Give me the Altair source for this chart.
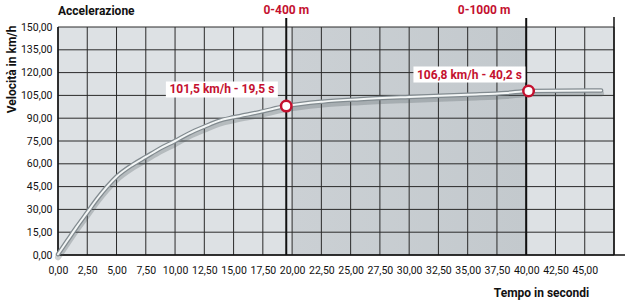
import altair as alt
import pandas as pd

# ---- data ----
time_s = [0, 0.8, 1.6, 2.5, 3.4, 4.2, 5.0, 6.4, 7.5, 8.7, 10.0, 11.2, 12.5, 13.8,
          15.0, 17.2, 19.5, 22.6, 25.8, 30.0, 35.0, 38.3, 40.2, 46.4]
speed_kmh = [0.5, 9.5, 18.5, 28, 37.5, 45, 51.5, 59.5, 64.5, 70, 75, 80, 84.4, 88.4,
             90.6, 94, 98, 100.9, 102.5, 104, 105.5, 106.6, 107.9, 108.3]

x_ticks = [0, 2.5, 5, 7.5, 10, 12.5, 15, 17.5, 20, 22.5, 25, 27.5, 30, 32.5,
           35, 37.5, 40, 42.5, 45]
x_grid = x_ticks + [47.5]
y_ticks = [0, 15, 30, 45, 60, 75, 90, 105, 120, 135, 150]

marker_t = [19.5, 40.2]
marker_v = [98, 107.9]
marker_text = ["101,5 km/h - 19,5 s", "106,8 km/h - 40,2 s"]
marker_text_t = [14.0, 35.15]
marker_text_v = [108.9, 118.7]

section_t = [19.5, 40.0]
section_text = ["0-400 m", "0-1000 m"]
section_text_t = [19.5, 36.4]
section_shade = [20, 40]
x_end = 47.5
chart_title = "Accelerazione"

FONT = "Roboto"
RED = "#c4112f"
W, H = 556, 228

curve = pd.DataFrame({"t": time_s, "v": speed_kmh})
xs = alt.Scale(domain=[0, x_end], nice=False, zero=False)
ys = alt.Scale(domain=[0, 150], nice=False)

comma = "replace(format(datum.value, '.2f'), '.', ',')"

xaxis = alt.Axis(values=x_ticks, labelExpr=comma, grid=False, domain=False, ticks=False,
                 labelPadding=10, labelFontSize=10.5, labelColor="#111111", labelFont=FONT,
                 title="Tempo in secondi", titleFont=FONT, titleFontSize=12, titleFontWeight="bold",
                 titleX=483, titleY=37, titleAlign="center", titleBaseline="middle",
                 titleColor="#111111", labelFlush=False, labelOverlap=False)
yaxis = alt.Axis(values=y_ticks, labelExpr=comma, grid=False, domain=False, ticks=False,
                 labelPadding=6, labelFontSize=10.5, labelColor="#111111", labelFont=FONT,
                 title="Velocità in km/h", titleFont=FONT, titleFontSize=12, titleFontWeight="bold",
                 titleX=-47, titleY=-2, titleAngle=270, titleAlign="right", titleBaseline="middle",
                 titleColor="#111111", labelOverlap=False)


def X(f):
    return alt.X(f, scale=xs, axis=xaxis)


def Y(f):
    return alt.Y(f, scale=ys, axis=yaxis)


shade = alt.Chart(pd.DataFrame({"a": [section_shade[0]], "b": [section_shade[1]]})).mark_rect(
    color=alt.Gradient(gradient="linear", x1=0, x2=1, y1=0, y2=0,
                       stops=[alt.GradientStop(color="#cbd0d4", offset=0),
                              alt.GradientStop(color="#c3c9cd", offset=1)])
).encode(x=X("a:Q"), x2="b:Q", y=alt.value(0), y2=alt.value(H))

vgrid = alt.Chart(pd.DataFrame({"a": x_grid})).mark_rule(color="#2a2a2a", strokeWidth=1).encode(
    x=X("a:Q"), y=alt.value(0), y2=alt.value(H))
hgrid = alt.Chart(pd.DataFrame({"v": y_ticks})).mark_rule(color="#2a2a2a", strokeWidth=1).encode(
    y=Y("v:Q"), x=alt.value(0), x2=alt.value(W))

sec_lines = alt.Chart(pd.DataFrame({"a": section_t})).mark_rule(color="#111111", strokeWidth=2).encode(
    x=X("a:Q"), y=alt.value(-9), y2=alt.value(H))
edge = alt.Chart(pd.DataFrame({"a": [x_end]})).mark_rule(color="#111111", strokeWidth=1.5).encode(
    x=X("a:Q"), y=alt.value(-10), y2=alt.value(H))
base_line = alt.Chart(pd.DataFrame({"v": [0]})).mark_rule(color="#111111", strokeWidth=1.5).encode(
    y=Y("v:Q"), x=alt.value(0), x2=alt.value(W + 11))
left_line = alt.Chart(pd.DataFrame({"a": [0]})).mark_rule(color="#111111", strokeWidth=1.5).encode(
    x=X("a:Q"), y=alt.value(0), y2=alt.value(H))

shadow = alt.Chart(curve).mark_line(color="#4f585d", strokeWidth=6, opacity=0.28,
                                     interpolate="monotone", yOffset=3, strokeCap="round").encode(
    x=X("t:Q"), y=Y("v:Q"))
outline = alt.Chart(curve).mark_line(color="#828b90", strokeWidth=4.5, interpolate="monotone",
                                      strokeCap="round").encode(x=X("t:Q"), y=Y("v:Q"))
inner = alt.Chart(curve).mark_line(color="#f3f6f6", strokeWidth=2, interpolate="monotone",
                                    strokeCap="round").encode(x=X("t:Q"), y=Y("v:Q"))

mk = pd.DataFrame({"t": marker_t, "v": marker_v})
markers = alt.Chart(mk).mark_point(shape="circle", filled=True, fill="white", stroke=RED,
                                   strokeWidth=2.5, size=110, opacity=1).encode(
    x=X("t:Q"), y=Y("v:Q"))

lab = pd.DataFrame({"t": marker_text_t, "v": marker_text_v, "txt": marker_text})
lab_box = alt.Chart(lab).mark_rect(color="white", width=112, height=16).encode(
    x=X("t:Q"), y=Y("v:Q"))
lab_txt = alt.Chart(lab).mark_text(color=RED, font=FONT, fontSize=12, fontWeight="bold",
                                   align="center", baseline="middle").encode(
    x=X("t:Q"), y=Y("v:Q"), text="txt:N")

sec = pd.DataFrame({"t": section_text_t, "txt": section_text})
sec_txt = alt.Chart(sec).mark_text(color=RED, font=FONT, fontSize=12, fontWeight="bold",
                                   align="center", baseline="alphabetic").encode(
    x=X("t:Q"), y=alt.value(-13), text="txt:N")

ttl = alt.Chart(pd.DataFrame({"txt": [chart_title]})).mark_text(
    color="#111111", font=FONT, fontSize=12, fontWeight="bold", align="left", baseline="alphabetic"
).encode(x=alt.value(0), y=alt.value(-12), text="txt:N")

chart = alt.layer(
    shade, vgrid, hgrid, left_line, base_line, sec_lines, edge,
    shadow, outline, inner, markers, lab_box, lab_txt, sec_txt, ttl
).properties(
    width=W, height=H,
    autosize=alt.AutoSizeParams(type="none"),
    padding={"left": 58, "top": 27, "right": 16, "bottom": 45},
    background="white",
).configure_view(fill="#dde1e4", stroke=None)

chart.save("out.html", embed_options={"renderer": "svg", "actions": False})
